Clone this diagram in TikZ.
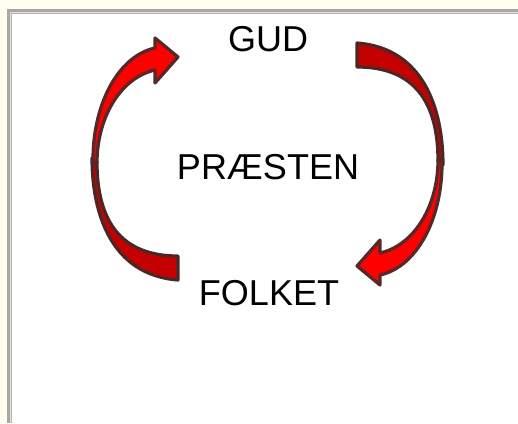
\documentclass[tikz,border=0pt]{standalone}
\usepackage{fontspec}
\setmainfont{Liberation Sans}
\definecolor{cream}{HTML}{FFFEF0}
\definecolor{frameA}{HTML}{A9A7A2}
\definecolor{frameB}{HTML}{E2E1DE}
\definecolor{frameC}{HTML}{B4B2AE}
\definecolor{brightred}{HTML}{FF0000}
\definecolor{darkred}{HTML}{C40000}
\definecolor{edge}{HTML}{3C3232}
\tikzset{
  label text/.style={font=\fontsize{36}{40}\selectfont, text=black, anchor=base, inner sep=0pt},
  front face/.style={fill=brightred, draw=edge, line width=1.35pt, double=brightred!75!black, double distance=0.5pt, line join=round},
  back face/.style={fill=darkred, draw=edge, line width=1.35pt, double=darkred!75!black, double distance=0.5pt, line join=round},
}
\begin{document}
\begin{tikzpicture}[x=1pt,y=-1pt]
\useasboundingbox (0,0) rectangle (518,423);
% page frame
\fill[cream] (0,0) rectangle (518,423);
\fill[frameA] (7,9) rectangle (518,423);
\fill[frameB] (10,12) rectangle (518,423);
\fill[frameC] (11,13) rectangle (518,423);
\fill[white] (12,14) rectangle (518,423);

% left curved arrow (from FOLKET up to GUD)
\begin{scope}
  \path[back face] (92,158) .. controls (92,215) and (112,275) .. (178,280)
     -- (178,256) .. controls (120,256) and (97,220) .. (97,162) -- cycle;
  \path[front face] (93,163) .. controls (92,105) and (118,56) .. (155,48)
     -- (155,38) -- (178,57) -- (155,83) -- (155,70)
     .. controls (120,78) and (97,118) .. (97,163) -- cycle;
\end{scope}

% right curved arrow (from GUD down to FOLKET), point symmetric
\begin{scope}[rotate around={180:(267.5,161.5)}]
  \path[back face] (92,158) .. controls (92,215) and (112,275) .. (178,280)
     -- (178,256) .. controls (120,256) and (97,220) .. (97,162) -- cycle;
  \path[front face] (93,163) .. controls (92,105) and (118,56) .. (155,48)
     -- (155,38) -- (178,57) -- (155,83) -- (155,70)
     .. controls (120,78) and (97,118) .. (97,163) -- cycle;
\end{scope}

\node[label text] (gud) at (268,51) {GUD};
\node[label text] (praesten) at (268,179) {PRÆSTEN};
\node[label text] (folket) at (269,305) {FOLKET};
\end{tikzpicture}
\end{document}
